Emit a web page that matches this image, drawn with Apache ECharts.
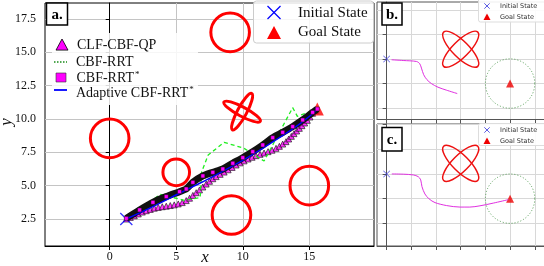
<!DOCTYPE html>
<html><head><meta charset="utf-8">
<script src="https://cdn.jsdelivr.net/npm/echarts@6/dist/echarts.min.js"></script>
<style>html,body{margin:0;padding:0;background:#fff}#c{width:544px;height:266px}</style>
</head><body><div id="c"></div>
<script>
// ---- main panel (a) ----
const mainXTicks = [0, 5, 10, 15];
const mainYTicks = [2.5, 5, 7.5, 10, 12.5, 15, 17.5];
const obstacles = [[0, 8.55, 1.45], [5, 6.0, 1.0], [9.15, 2.8, 1.45], [15, 5.0, 1.45], [9.05, 16.5, 1.45]];
const mainFlower = [[9.95, 10.55, 1.55, 0.35, 62], [9.95, 10.55, 1.55, 0.35, -28]];
const startPoint = [[1.25, 2.5]];
const goalPoint = [[15.6, 10.75]];
const clfCbfQp = [[1.25,2.5],[1.55,2.62],[1.85,2.74],[2.15,2.88],[2.45,3.02],[2.75,3.12],[3.05,3.22],[3.35,3.31],[3.65,3.37],[3.95,3.42],[4.25,3.46],[4.55,3.51],[4.85,3.56],[5.15,3.63],[5.45,3.73],[5.75,3.88],[6.0,4.06],[6.25,4.27],[6.5,4.47],[6.75,4.68],[7.0,4.9],[7.25,5.12],[7.5,5.33],[7.75,5.52],[8.0,5.68],[8.3,5.85],[8.6,6.02],[8.9,6.19],[9.2,6.37],[9.5,6.55],[9.8,6.71],[10.1,6.86],[10.4,7.0],[10.7,7.13],[11.0,7.25],[11.3,7.35],[11.6,7.45],[11.9,7.55],[12.2,7.66],[12.5,7.8],[12.75,7.95],[13.0,8.12],[13.25,8.3],[13.45,8.5],[13.65,8.7],[13.85,8.9],[14.05,9.1],[14.25,9.3],[14.45,9.5],[14.65,9.7],[14.85,9.9],[15.05,10.15],[15.25,10.43],[15.45,10.62]];
const cbfRrt = [[1.25,2.5],[3.8,4.35],[5.6,3.9],[6.8,4.1],[6.9,6.0],[7.4,7.3],[8.6,8.25],[10.1,7.8],[11.6,6.85],[13.75,10.85],[14.1,10.2],[15.6,10.75]];
const cbfRrtStar = [[1.25,2.55],[2.25,3.18],[3.25,3.75],[4.25,4.18],[5.25,4.55],[5.75,4.75],[6.25,5.25],[7.0,5.73],[7.75,6.0],[8.5,6.25],[9.25,6.68],[10.0,7.1],[10.75,7.55],[11.5,8.05],[12.25,8.6],[13.0,9.0],[13.75,9.43],[14.5,9.93],[15.25,10.5],[15.6,10.75]];
const adaptiveCbfRrtStar = [[1.25,2.5],[3.25,3.43],[5.25,4.43],[6.5,5.05],[7.75,5.68],[9.0,6.35],[10.25,7.05],[11.5,7.8],[12.75,8.6],[14.0,9.43],[15.13,10.3],[15.6,10.75]];
// ---- side panels (b, c) ----
const panelXTicks = [0, 1, 2, 3, 4, 5, 6];
const panelYTicks = [1, 2, 3, 4, 5];
const panelFlowerB = [[3.0, 3.4, 0.98, 0.33, 45], [3.0, 3.4, 0.98, 0.33, -45]];
const panelFlowerC = [[3.0, 3.43, 0.98, 0.33, 45], [3.0, 3.43, 0.98, 0.33, -45]];
const panelStart = [[0, 3]];
const panelGoal = [[5, 2]];
const goalRegion = [[5, 2, 1.0]];
const pathB = [[0.2,2.97],[0.67,2.94],[1.21,2.9],[1.34,2.81],[1.41,2.63],[1.5,2.36],[1.63,2.16],[1.81,2.0],[2.08,1.85],[2.42,1.73],[2.86,1.59]];
const pathC = [[0.21,3.0],[0.68,2.99],[1.08,2.96],[1.28,2.89],[1.38,2.76],[1.43,2.49],[1.55,2.19],[1.72,1.99],[1.96,1.84],[2.43,1.72],[2.97,1.66],[3.37,1.66],[3.78,1.71],[4.32,1.82],[4.93,1.96]];

const SERIF = 'Liberation Serif';
const SANS = 'DejaVu Sans';
const X_PATH = 'path://M0,0.7L0.7,0L5,4.3L9.3,0L10,0.7L5.7,5L10,9.3L9.3,10L5,5.7L0.7,10L0,9.3L4.3,5Z';

function circleItem(color, width, dash) {
  return function (params, api) {
    const c = api.coord([api.value(0), api.value(1)]);
    const r = api.size([api.value(2), 0])[0];
    return { type: 'circle', shape: { cx: c[0], cy: c[1], r: r },
      style: { fill: 'none', stroke: color, lineWidth: width, lineDash: dash || null } };
  };
}
function ellipseItem(color, width) {
  return function (params, api) {
    const c = api.coord([api.value(0), api.value(1)]);
    const a = api.size([api.value(2), 0])[0];
    const b = api.size([api.value(3), 0])[0];
    return { type: 'ellipse', x: c[0], y: c[1], rotation: api.value(4) * Math.PI / 180,
      shape: { cx: 0, cy: 0, rx: a, ry: b },
      style: { fill: 'none', stroke: color, lineWidth: width } };
  };
}
function panelX(idx) {
  return { type: 'value', gridIndex: idx, min: -0.39, max: 6.9,
    axisLine: { show: true, lineStyle: { color: '#555', width: 1 } },
    axisTick: { show: true, customValues: panelXTicks, length: 4, lineStyle: { color: '#555' } },
    axisLabel: { show: false },
    splitLine: { show: true, lineStyle: { color: '#d8d8d8', width: 1 } } };
}
function panelY(idx, mn, mx) {
  return { type: 'value', gridIndex: idx, min: mn, max: mx,
    axisLine: { show: true, lineStyle: { color: '#555', width: 1 } },
    axisTick: { show: true, customValues: panelYTicks, length: 4, lineStyle: { color: '#555' } },
    axisLabel: { show: false },
    splitLine: { show: true, lineStyle: { color: '#d8d8d8', width: 1 } } };
}
function panelSeries(idx, flower, path) {
  return [
    { type: 'custom', xAxisIndex: idx, yAxisIndex: idx, data: flower, renderItem: ellipseItem('#ee1111', 1.5), silent: true },
    { type: 'custom', xAxisIndex: idx, yAxisIndex: idx, data: goalRegion, renderItem: circleItem('#4f9a4f', 1, [1, 2]), silent: true },
    { type: 'line', xAxisIndex: idx, yAxisIndex: idx, data: path, smooth: 0.3, showSymbol: false,
      lineStyle: { color: '#e030e0', width: 1 } },
    { type: 'scatter', xAxisIndex: idx, yAxisIndex: idx, data: panelStart, symbol: X_PATH, symbolSize: 7,
      itemStyle: { color: '#3333dd' } },
    { type: 'scatter', xAxisIndex: idx, yAxisIndex: idx, data: panelGoal, symbol: 'triangle', symbolSize: 8,
      itemStyle: { color: '#ee0000' } }
  ];
}
function labelBox(x, y, w, h, txt) {
  return [
    { type: 'rect', z: 100, shape: { x: x, y: y, width: w, height: h }, style: { fill: '#fff', stroke: '#000', lineWidth: 1.5 } },
    { type: 'text', z: 101, x: x + w / 2, y: y + h / 2 + 1, style: { text: txt, font: 'bold 15px "' + SERIF + '"', fill: '#000', align: 'center', verticalAlign: 'middle' } }
  ];
}
function xMark(cx, cy, s, color, w) {
  return [
    { type: 'line', z: 101, shape: { x1: cx - s, y1: cy - s, x2: cx + s, y2: cy + s }, style: { stroke: color, lineWidth: w } },
    { type: 'line', z: 101, shape: { x1: cx - s, y1: cy + s, x2: cx + s, y2: cy - s }, style: { stroke: color, lineWidth: w } }
  ];
}
function tri(cx, cy, s, fill, stroke) {
  return { type: 'polygon', z: 101, shape: { points: [[cx - s, cy + s * 0.85], [cx + s, cy + s * 0.85], [cx, cy - s]] },
    style: { fill: fill, stroke: stroke || null, lineWidth: 0.8 } };
}
function txt(x, y, t, font, color) {
  return { type: 'text', z: 101, x: x, y: y, style: { text: t, font: font, fill: color || '#111', verticalAlign: 'middle' } };
}
function richTxt(x, y, base) {
  return { type: 'text', z: 101, x: x, y: y, style: { text: base + '{s|*}', font: '14px "' + SERIF + '"', fill: '#111', verticalAlign: 'middle',
    rich: { s: { fontSize: 9, fontFamily: SERIF, verticalAlign: 'top', padding: [0, 0, 6, 1] } } } };
}

const graphics = [].concat(
  // axis titles
  [{ type: 'text', z: 101, x: 205, y: 258, style: { text: 'x', font: 'italic 17px "' + SERIF + '"', fill: '#111', align: 'center', verticalAlign: 'middle' } },
   { type: 'text', z: 101, x: 7, y: 122, rotation: Math.PI / 2, style: { text: 'y', font: 'italic 17px "' + SERIF + '"', fill: '#111', align: 'center', verticalAlign: 'middle' } }],
  // main left legend
  [{ type: 'rect', z: 99, shape: { x: 52, y: 33, width: 146, height: 72 }, style: { fill: 'rgba(255,255,255,0.85)' } },
   tri(62, 45, 6, '#ff00ff', '#000'),
   txt(77, 45, 'CLF-CBF-QP', '14px "' + SERIF + '"'),
   { type: 'line', z: 101, shape: { x1: 54, y1: 62, x2: 67, y2: 62 }, style: { stroke: '#1a8a1a', lineWidth: 1.5, lineDash: [1.5, 1.5] } },
   txt(76, 62, 'CBF-RRT', '14px "' + SERIF + '"'),
   { type: 'rect', z: 101, shape: { x: 56, y: 73, width: 10, height: 9 }, style: { fill: '#ff00ff', stroke: '#333', lineWidth: 0.6 } },
   richTxt(76.5, 78, 'CBF-RRT'),
   { type: 'line', z: 101, shape: { x1: 54, y1: 90, x2: 67, y2: 90 }, style: { stroke: '#0000ff', lineWidth: 1.8 } },
   richTxt(76, 93, 'Adaptive CBF-RRT')],
  // main right legend
  [{ type: 'rect', z: 99, shape: { x: 253.5, y: 1, width: 120, height: 42, r: 3 }, style: { fill: 'rgba(255,255,255,0.85)', stroke: '#cccccc', lineWidth: 1 } }],
  xMark(274, 12.5, 6.5, '#0000ff', 1.2),
  [txt(298, 13, 'Initial State', '15px "' + SERIF + '"'),
   tri(274, 33, 7, '#ff0000'),
   txt(298, 32.5, 'Goal State', '15px "' + SERIF + '"')],
  // panel b legend
  [{ type: 'rect', z: 99, shape: { x: 478.5, y: -2, width: 80, height: 24, r: 2 }, style: { fill: 'rgba(255,255,255,0.9)', stroke: '#dddddd', lineWidth: 1 } }],
  xMark(487, 6, 2.7, '#3333dd', 0.8),
  [txt(500, 6.5, 'Initial State', '6.5px "' + SANS + '"', '#333'),
   tri(487, 17, 3.5, '#ee0000'),
   txt(500, 17, 'Goal State', '6.5px "' + SANS + '"', '#333')],
  // panel c legend
  [{ type: 'rect', z: 99, shape: { x: 478.5, y: 123.5, width: 80, height: 22, r: 2 }, style: { fill: 'rgba(255,255,255,0.9)', stroke: '#dddddd', lineWidth: 1 } }],
  xMark(487, 130, 2.7, '#3333dd', 0.8),
  [txt(500, 130.5, 'Initial State', '6.5px "' + SANS + '"', '#333'),
   tri(487, 141, 3.5, '#ee0000'),
   txt(500, 141, 'Goal State', '6.5px "' + SANS + '"', '#333')],
  labelBox(46.5, 3, 21, 22, 'a.'),
  labelBox(382, 3, 20, 22, 'b.'),
  labelBox(382, 127.5, 20, 23.5, 'c.')
);

const chart = echarts.init(document.getElementById('c'), null, { renderer: 'canvas' });
chart.setOption({
  animation: false,
  backgroundColor: '#fff',
  grid: [
    { left: 45, top: 3, width: 329, height: 243, show: true, borderColor: '#000', borderWidth: 1, containLabel: false, outerBoundsMode: 'none' },
    { left: 377, top: 2, width: 180, height: 117.5, show: true, borderColor: '#555', borderWidth: 1, containLabel: false, outerBoundsMode: 'none' },
    { left: 377, top: 124, width: 180, height: 122, show: true, borderColor: '#555', borderWidth: 1, containLabel: false, outerBoundsMode: 'none' }
  ],
  xAxis: [
    { type: 'value', gridIndex: 0, min: -4.86, max: 19.86,
      axisLine: { show: true, lineStyle: { color: '#000', width: 1 } },
      axisTick: { show: true, customValues: mainXTicks, length: 4, lineStyle: { color: '#000' } },
      axisLabel: { customValues: mainXTicks, fontFamily: SERIF, fontSize: 12, color: '#111', margin: 5 },
      splitLine: { show: true, lineStyle: { color: '#c4c4c4', width: 1 } } },
    panelX(1), panelX(2)
  ],
  yAxis: [
    { type: 'value', gridIndex: 0, min: 0.475, max: 18.7,
      axisLine: { show: true, lineStyle: { color: '#000', width: 1 } },
      axisTick: { show: true, customValues: mainYTicks, length: 4, lineStyle: { color: '#000' } },
      axisLabel: { customValues: mainYTicks, fontFamily: SERIF, fontSize: 12, color: '#111', margin: 9, formatter: v => v.toFixed(1) },
      splitLine: { show: true, lineStyle: { color: '#c4c4c4', width: 1 } } },
    panelY(1, 0.53, 5.33), panelY(2, 0.085, 5.02)
  ],
  series: [
    { type: 'custom', xAxisIndex: 0, yAxisIndex: 0, data: obstacles, renderItem: circleItem('#ff0000', 3), silent: true },
    { type: 'custom', xAxisIndex: 0, yAxisIndex: 0, data: mainFlower, renderItem: ellipseItem('#ff0000', 3), silent: true },
    { type: 'line', name: 'CBF-RRT', xAxisIndex: 0, yAxisIndex: 0, data: cbfRrt, showSymbol: false,
      lineStyle: { color: '#22ee22', width: 1.3, type: [4, 3] } },
    { type: 'scatter', name: 'CLF-CBF-QP', xAxisIndex: 0, yAxisIndex: 0, data: clfCbfQp, symbol: 'triangle', symbolSize: 6,
      itemStyle: { color: '#ff00ff', borderColor: '#111', borderWidth: 0.8 } },
    { type: 'line', name: 'CBF-RRT*', xAxisIndex: 0, yAxisIndex: 0, data: cbfRrtStar, smooth: 0.2, showAllSymbol: true,
      symbol: 'rect', symbolSize: 4, lineStyle: { color: '#111', width: 7 },
      itemStyle: { color: '#ff00ff', borderColor: '#111', borderWidth: 0.5 } },
    { type: 'line', name: 'Adaptive CBF-RRT*', xAxisIndex: 0, yAxisIndex: 0, data: adaptiveCbfRrtStar, smooth: 0.3, showSymbol: false,
      lineStyle: { color: '#0000ff', width: 1.5 } },
    { type: 'scatter', xAxisIndex: 0, yAxisIndex: 0, data: startPoint, symbol: X_PATH, symbolSize: 13, itemStyle: { color: '#0000ff' } },
    { type: 'scatter', xAxisIndex: 0, yAxisIndex: 0, data: goalPoint, symbol: 'triangle', symbolSize: 13, itemStyle: { color: '#ff0000' } }
  ].concat(panelSeries(1, panelFlowerB, pathB), panelSeries(2, panelFlowerC, pathC)),
  graphic: { elements: graphics }
});
</script></body></html>
